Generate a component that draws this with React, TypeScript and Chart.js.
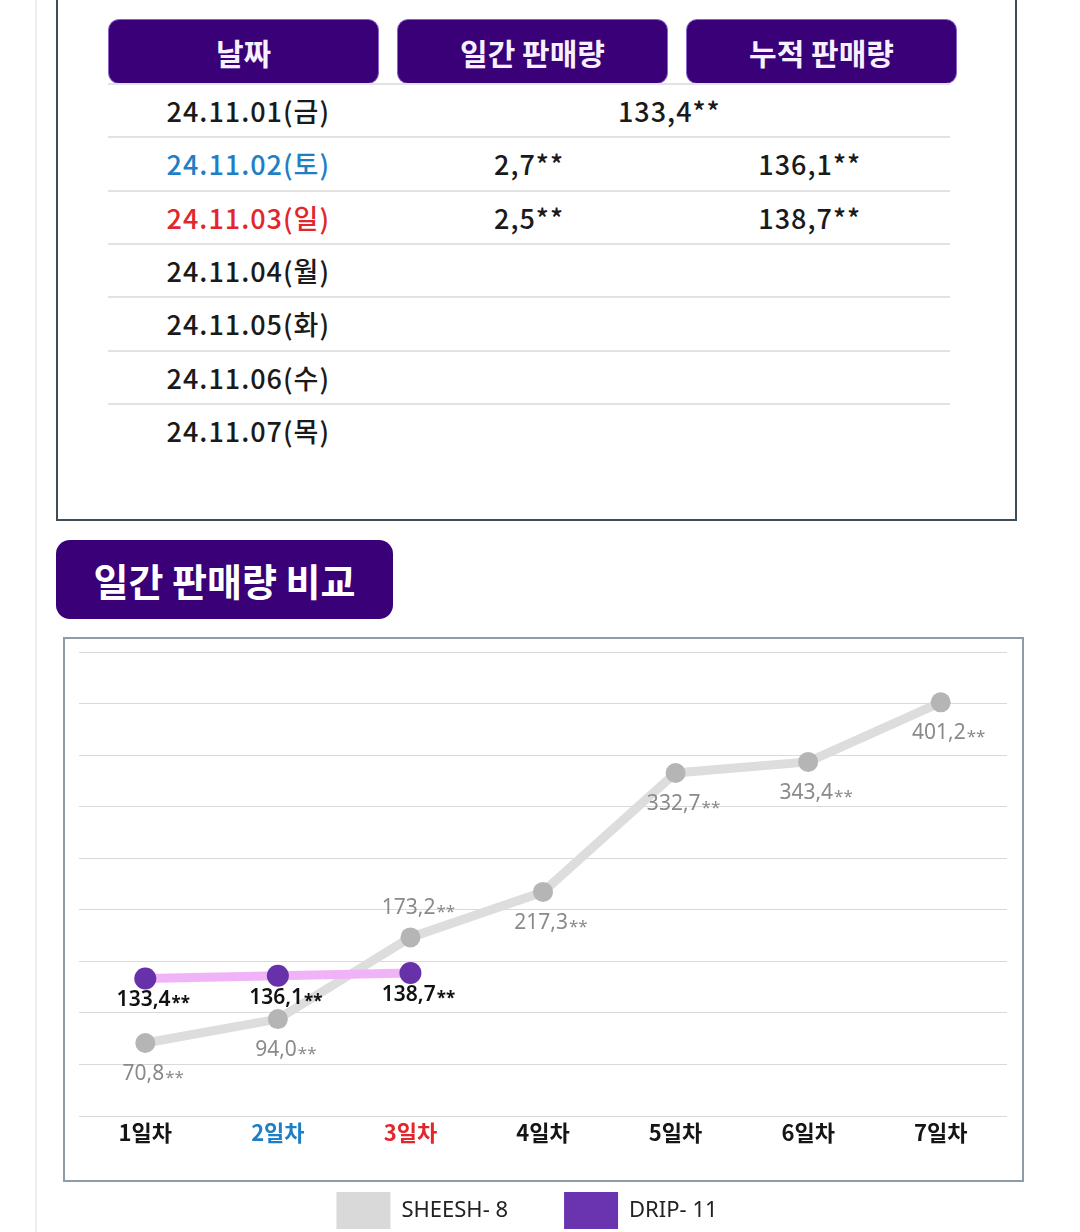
import React, { useEffect, useRef } from 'react';
import { Chart, registerables } from 'chart.js';

Chart.register(...registerables);

// ---------- data ----------
const tableHeaders = ['날짜', '일간 판매량', '누적 판매량'];
const tableDates = ['24.11.01(금)', '24.11.02(토)', '24.11.03(일)', '24.11.04(월)', '24.11.05(화)', '24.11.06(수)', '24.11.07(목)'];
const tableDaily: (number | null)[] = [133.4, 2.7, 2.5, null, null, null, null];
const tableCumulative: (number | null)[] = [133.4, 136.1, 138.7, null, null, null, null];

const sectionTitle = '일간 판매량 비교';
const dayLabels = ['1일차', '2일차', '3일차', '4일차', '5일차', '6일차', '7일차'];
const seriesNames = ['SHEESH- 8', 'DRIP- 11'];
const sheeshValues = [70.8, 94.0, 173.2, 217.3, 332.7, 343.4, 401.2];
const dripValues: (number | null)[] = [133.4, 136.1, 138.7, null, null, null, null];
const yMin = 0;
const yMax = 450;
const yStep = 50;

// ---------- styles (kept apart from data) ----------
const PURPLE = '#3a0078';
const tickColors = ['#151515', '#1f7fc6', '#e3262a', '#151515', '#151515', '#151515', '#151515'];
const sheeshLabelSide = ['below', 'below', 'above', 'below', 'below', 'below', 'below'];

const fmt = (v: number) => v.toFixed(1).replace('.', ',');
const dateColor = (d: string) => (d.includes('(토)') ? '#1f7fc6' : d.includes('(일)') ? '#e3262a' : '#1a1a1a');

const labelPlugin = {
  id: 'valueLabels',
  afterDatasetsDraw(chart: any) {
    const ctx = chart.ctx as CanvasRenderingContext2D;
    chart.data.datasets.forEach((ds: any, di: number) => {
      const meta = chart.getDatasetMeta(di);
      const isDrip = di === 1;
      meta.data.forEach((pt: any, i: number) => {
        const v = ds.data[i];
        if (v == null) return;
        const num = fmt(v);
        const dx = 8;
        let dy = isDrip ? 22 : 31;
        if (!isDrip && sheeshLabelSide[i] === 'above') dy = -29;
        const cx = pt.x + dx;
        const cy = pt.y + dy;
        ctx.save();
        ctx.fillStyle = isDrip ? '#111111' : '#8a8a8a';
        ctx.textBaseline = 'middle';
        ctx.textAlign = 'left';
        const numFont = isDrip ? '600 21px "Noto Sans", sans-serif' : '400 21px "Noto Sans", sans-serif';
        const starFont = isDrip ? '700 17px "Noto Sans", sans-serif' : '400 17px "Noto Sans", sans-serif';
        ctx.font = numFont;
        const wNum = ctx.measureText(num).width;
        ctx.font = starFont;
        const wStar = ctx.measureText('**').width;
        const x0 = cx - (wNum + wStar + 1) / 2;
        ctx.font = numFont;
        ctx.fillText(num, x0, cy);
        ctx.font = starFont;
        ctx.fillText('**', x0 + wNum + 1, cy + 4);
        ctx.restore();
      });
    });
  },
};

// nudges the library legend up so it sits closer to the axis labels
const legendNudge = {
  id: 'legendNudge',
  afterLayout(chart: any) {
    const l = chart.legend;
    if (l) {
      l.top -= 11;
      l.bottom -= 11;
    }
  },
};

export default function App() {
  const canvasRef = useRef<HTMLCanvasElement>(null);

  useEffect(() => {
    const canvas = canvasRef.current;
    if (!canvas) return;
    const chart = new Chart(canvas, {
      type: 'line',
      data: {
        labels: dayLabels,
        datasets: [
          {
            label: seriesNames[0],
            data: sheeshValues,
            borderColor: '#dddddd',
            backgroundColor: '#d9d9d9',
            borderWidth: 9,
            pointRadius: 10,
            pointHoverRadius: 10,
            pointBackgroundColor: '#b5b5b5',
            pointBorderWidth: 0,
            tension: 0,
            order: 2,
          },
          {
            label: seriesNames[1],
            data: dripValues,
            borderColor: '#f0b3f7',
            backgroundColor: '#6a33b0',
            borderWidth: 9,
            pointRadius: 11,
            pointHoverRadius: 11,
            pointBackgroundColor: '#6631a9',
            pointBorderWidth: 0,
            tension: 0,
            order: 1,
          },
        ],
      },
      options: {
        responsive: false,
        animation: false,
        layout: { autoPadding: false, padding: { top: 14, left: 0, right: 0, bottom: 0 } },
        plugins: {
          tooltip: { enabled: false },
          legend: {
            position: 'bottom',
            align: 'center',
            labels: {
              boxWidth: 54,
              boxHeight: 37,
              padding: 56,
              color: '#222222',
              font: { family: '"Noto Sans", sans-serif', size: 22 },
              generateLabels: (c: any) =>
                c.data.datasets.map((ds: any, i: number) => ({
                  text: ds.label,
                  fillStyle: ds.backgroundColor,
                  strokeStyle: ds.backgroundColor,
                  lineWidth: 0,
                  hidden: false,
                  datasetIndex: i,
                  fontColor: '#222222',
                })),
            },
          },
        },
        scales: {
          x: {
            type: 'category',
            offset: true,
            grid: { display: false, drawTicks: false },
            border: { display: false },
            ticks: {
              padding: 3,
              font: { family: '"Noto Sans CJK KR", "Noto Sans", sans-serif', size: 22, weight: 'bold' },
              color: (c: any) => tickColors[c.index] || '#151515',
            },
            afterFit: (s: any) => {
              s.height = 31;
              s.paddingLeft = 0;
              s.paddingRight = 0;
            },
          },
          y: {
            min: yMin,
            max: yMax,
            ticks: { stepSize: yStep, display: false },
            grid: { color: '#d9d9d9', lineWidth: 1, drawTicks: false },
            border: { display: false },
            afterFit: (s: any) => {
              s.width = 32;
            },
          },
        },
      } as any,
      plugins: [labelPlugin, legendNudge],
    });
    return () => chart.destroy();
  }, []);

  const colLeft = 108;
  const colW = 842 / 3;
  const rowTop = 84;
  const rowH = 53.33;

  return (
    <div
      style={{
        position: 'absolute',
        left: 0,
        top: 0,
        width: 1080,
        height: 1232,
        overflow: 'hidden',
        background: '#ffffff',
        fontFamily: '"Noto Sans CJK KR", "Noto Sans", sans-serif',
      }}
    >
      {/* page edge line */}
      <div style={{ position: 'absolute', left: 35, top: 0, width: 2, height: 1232, background: '#ededed' }} />

      {/* table box */}
      <div
        style={{
          position: 'absolute',
          left: 56,
          top: -40,
          width: 961,
          height: 561,
          boxSizing: 'border-box',
          border: '2px solid #3f4d58',
        }}
      />

      {/* headers */}
      {tableHeaders.map((h, i) => (
        <div
          key={h}
          style={{
            position: 'absolute',
            left: 108 + i * 289,
            top: 19,
            width: 271,
            height: 65,
            boxSizing: 'border-box',
            borderRadius: 11,
            background: PURPLE,
            border: '1px solid #8b63c9',
            color: '#f6f0ff',
            fontWeight: 700,
            fontSize: 30,
            display: 'flex',
            alignItems: 'center',
            justifyContent: 'center',
          }}
        >
          {h}
        </div>
      ))}

      {/* row separators */}
      {tableDates.slice(0, 7).map((_, k) => (
        <div
          key={'sep' + k}
          style={{
            position: 'absolute',
            left: colLeft,
            top: rowTop + k * rowH - 1,
            width: 842,
            height: 2,
            background: '#e2e2e2',
          }}
        />
      ))}

      {/* rows */}
      {tableDates.map((d, i) => {
        const top = rowTop + i * rowH;
        const daily = tableDaily[i];
        const cum = tableCumulative[i];
        const merged = daily != null && cum != null && daily === cum;
        const cell = (left: number, width: number, text: string, color: string, key: string) => (
          <div
            key={key}
            style={{
              position: 'absolute',
              left,
              top,
              width,
              height: rowH,
              display: 'flex',
              alignItems: 'center',
              justifyContent: 'center',
              fontSize: 27,
              fontWeight: 500,
              letterSpacing: 1,
              color,
            }}
          >
            {text}
          </div>
        );
        return (
          <React.Fragment key={d}>
            {cell(colLeft, colW, d, dateColor(d), d + 'd')}
            {merged && daily != null && cell(colLeft + colW, colW * 2, fmt(daily) + '**', '#1a1a1a', d + 'm')}
            {!merged && daily != null && cell(colLeft + colW, colW, fmt(daily) + '**', '#1a1a1a', d + 'a')}
            {!merged && cum != null && cell(colLeft + colW * 2, colW, fmt(cum) + '**', '#1a1a1a', d + 'c')}
          </React.Fragment>
        );
      })}

      {/* section title */}
      <div
        style={{
          position: 'absolute',
          left: 56,
          top: 540,
          width: 337,
          height: 79,
          borderRadius: 14,
          background: PURPLE,
          color: '#ffffff',
          fontWeight: 700,
          fontSize: 38,
          display: 'flex',
          alignItems: 'center',
          justifyContent: 'center',
        }}
      >
        {sectionTitle}
      </div>

      {/* chart box */}
      <div
        style={{
          position: 'absolute',
          left: 63,
          top: 637,
          width: 961,
          height: 545,
          boxSizing: 'border-box',
          border: '2px solid #8f9ca6',
        }}
      />

      <canvas
        ref={canvasRef}
        width={960}
        height={612}
        style={{ position: 'absolute', left: 47, top: 638, width: 960, height: 612 }}
      />
    </div>
  );
}
